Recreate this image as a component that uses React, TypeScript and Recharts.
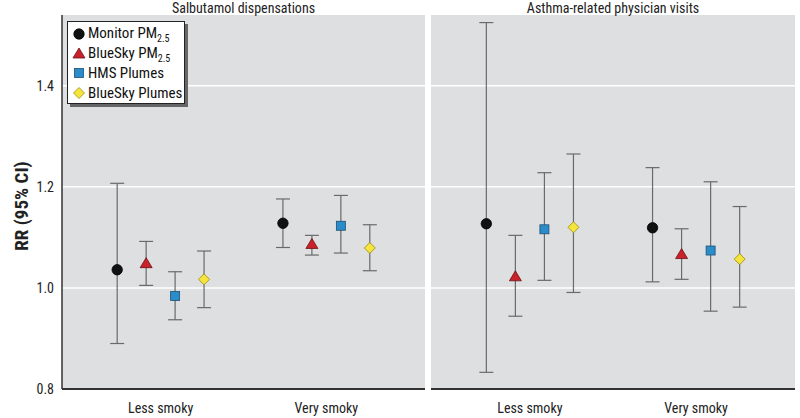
import React from 'react';
import { ScatterChart, Scatter, XAxis, YAxis, CartesianGrid, ErrorBar } from 'recharts';

const categories = ['Less smoky', 'Very smoky'];
const seriesNames = ['Monitor PM', 'BlueSky PM', 'HMS Plumes', 'BlueSky Plumes'];
const seriesSub = ['2.5', '2.5', '', ''];
const panelTitles = ['Salbutamol dispensations', 'Asthma-related physician visits'];
const yTicks = [0.8, 1.0, 1.2, 1.4];

// Salbutamol dispensations: [less smoky, very smoky]
const salMonitor = [1.036, 1.128];
const salMonitorLo = [0.89, 1.08];
const salMonitorHi = [1.207, 1.176];
const salBsPm = [1.048, 1.086];
const salBsPmLo = [1.005, 1.065];
const salBsPmHi = [1.092, 1.104];
const salHms = [0.984, 1.123];
const salHmsLo = [0.937, 1.069];
const salHmsHi = [1.032, 1.183];
const salBsPl = [1.017, 1.079];
const salBsPlLo = [0.961, 1.034];
const salBsPlHi = [1.073, 1.125];

// Asthma-related physician visits
const visMonitor = [1.127, 1.119];
const visMonitorLo = [0.833, 1.012];
const visMonitorHi = [1.525, 1.238];
const visBsPm = [1.022, 1.066];
const visBsPmLo = [0.944, 1.017];
const visBsPmHi = [1.104, 1.117];
const visHms = [1.116, 1.074];
const visHmsLo = [1.015, 0.954];
const visHmsHi = [1.228, 1.21];
const visBsPl = [1.12, 1.057];
const visBsPlLo = [0.991, 0.962];
const visBsPlHi = [1.265, 1.161];

const FONT = "'Liberation Sans Narrow', 'Arial Narrow', 'Roboto Condensed', sans-serif";
const DODGE = 0.1747;
const X_DOMAIN: [number, number] = [-0.595, 1.595];
const Y_DOMAIN: [number, number] = [0.8, 1.54];
const PANEL_BG = '#dedfe1';

const kinds = ['circle', 'triangle', 'square', 'diamond'];
const fills = ['#111111', '#c9222b', '#2a8dc9', '#f4e43c'];
const strokes = ['#000000', '#6b1014', '#1b4f75', '#9a8a10'];

function Marker({ kind, cx, cy, fill, stroke }: any) {
  if (cx == null || cy == null) return null;
  if (kind === 'circle') return <circle cx={cx} cy={cy} r={5.2} fill={fill} stroke={stroke} strokeWidth={0.8} />;
  if (kind === 'triangle') {
    const h = 10, w = 12;
    return <path d={`M${cx},${cy - h * 0.6} L${cx + w / 2},${cy + h * 0.4} L${cx - w / 2},${cy + h * 0.4} Z`} fill={fill} stroke={stroke} strokeWidth={0.8} />;
  }
  if (kind === 'square') return <rect x={cx - 4.5} y={cy - 4.5} width={9} height={9} fill={fill} stroke={stroke} strokeWidth={0.8} />;
  const d = 5.5;
  return <path d={`M${cx},${cy - d} L${cx + d},${cy} L${cx},${cy + d} L${cx - d},${cy} Z`} fill={fill} stroke={stroke} strokeWidth={0.8} />;
}

function build(vals: number[], lo: number[], hi: number[], s: number) {
  return vals.map((v, i) => ({
    x: i + (s - 1.5) * DODGE,
    y: v,
    err: [v - lo[i], hi[i] - v],
  }));
}

const salSeries = [
  build(salMonitor, salMonitorLo, salMonitorHi, 0),
  build(salBsPm, salBsPmLo, salBsPmHi, 1),
  build(salHms, salHmsLo, salHmsHi, 2),
  build(salBsPl, salBsPlLo, salBsPlHi, 3),
];
const visSeries = [
  build(visMonitor, visMonitorLo, visMonitorHi, 0),
  build(visBsPm, visBsPmLo, visBsPmHi, 1),
  build(visHms, visHmsLo, visHmsHi, 2),
  build(visBsPl, visBsPlLo, visBsPlHi, 3),
];

function Panel({ series, showY, width }: any) {
  return (
    <ScatterChart width={width} height={418} margin={{ top: 15, right: 5, bottom: 0, left: 0 }}>
      <CartesianGrid fill={PANEL_BG} stroke="#ffffff" strokeWidth={1.5} vertical={false} horizontalValues={[1.0, 1.2, 1.4]} />
      <XAxis
        type="number"
        dataKey="x"
        domain={X_DOMAIN}
        ticks={[0, 1]}
        allowDataOverflow
        tickFormatter={(v: number) => categories[Math.round(v)]}
        tickLine={false}
        tickMargin={8}
        height={29}
        axisLine={{ stroke: '#333333', strokeWidth: 2 }}
        tick={{ fill: '#222222', fontSize: 14, fontFamily: FONT }}
      />
      <YAxis
        type="number"
        dataKey="y"
        domain={Y_DOMAIN}
        ticks={yTicks}
        allowDataOverflow
        hide={!showY}
        width={62}
        tickLine={false}
        tickFormatter={(v: number) => v.toFixed(1)}
        axisLine={{ stroke: '#333333', strokeWidth: 1.5 }}
        tick={{ fill: '#222222', fontSize: 14, fontFamily: FONT }}
      />
      {series.map((data: any, s: number) => (
        <Scatter
          key={s}
          data={data}
          isAnimationActive={false}
          shape={(p: any) => <Marker kind={kinds[s]} cx={p.cx} cy={p.cy} fill={fills[s]} stroke={strokes[s]} />}
        >
          <ErrorBar dataKey="err" direction="y" width={7} stroke="#6a6a6a" strokeWidth={1.2} />
        </Scatter>
      ))}
    </ScatterChart>
  );
}

export default function App() {
  return (
    <div style={{ position: 'absolute', left: 0, top: 0, width: 800, height: 418, background: '#ffffff', fontFamily: FONT }}>
      <div style={{ position: 'absolute', left: 0, top: 0 }}>
        <Panel series={salSeries} showY={true} width={430} />
      </div>
      <div style={{ position: 'absolute', left: 431, top: 0 }}>
        <Panel series={visSeries} showY={false} width={369} />
      </div>
      <div style={{ position: 'absolute', left: 62, width: 363, top: 0, textAlign: 'center', fontSize: 14, color: '#222', lineHeight: '16px' }}>{panelTitles[0]}</div>
      <div style={{ position: 'absolute', left: 431, width: 364, top: 0, textAlign: 'center', fontSize: 14, color: '#222', lineHeight: '16px' }}>{panelTitles[1]}</div>
      <div style={{ position: 'absolute', left: 21, top: 206, transform: 'translate(-50%, -50%) rotate(-90deg)', fontWeight: 'bold', fontSize: 19, color: '#222', whiteSpace: 'nowrap' }}>RR (95% CI)</div>
      <div style={{ position: 'absolute', left: 67, top: 21, width: 116, height: 81, background: '#ffffff', border: '1px solid #222', boxShadow: '3px 3px 0 #666' }}>
        {seriesNames.map((n, s) => (
          <div key={n} style={{ position: 'absolute', left: 4, top: 3 + s * 19.5, height: 18, display: 'flex', alignItems: 'center', fontSize: 15, color: '#111', whiteSpace: 'nowrap' }}>
            <svg width={14} height={14} style={{ marginRight: 2 }}>
              <Marker kind={kinds[s]} cx={7} cy={7} fill={fills[s]} stroke={strokes[s]} />
            </svg>
            <span>{n}{seriesSub[s] ? <sub style={{ fontSize: 10 }}>{seriesSub[s]}</sub> : null}</span>
          </div>
        ))}
      </div>
    </div>
  );
}
